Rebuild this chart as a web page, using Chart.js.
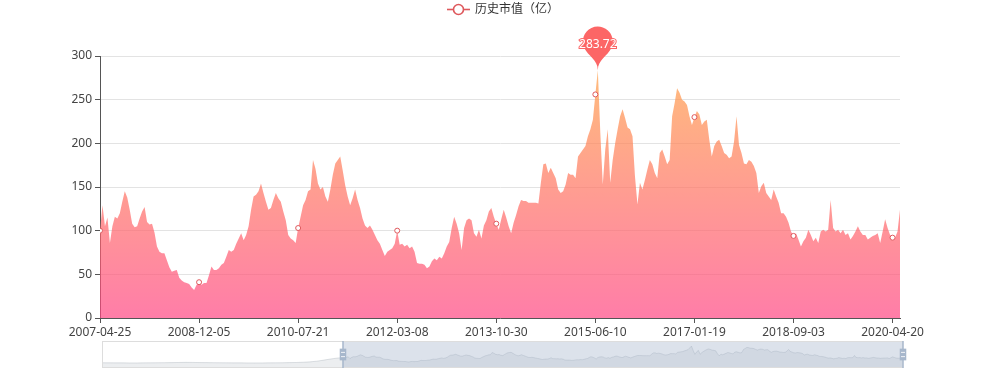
<!DOCTYPE html>
<html>
<head>
<meta charset="utf-8">
<script src="https://cdn.jsdelivr.net/npm/chart.js@4.4.1/dist/chart.umd.min.js"></script>
<style>
  html, body { margin: 0; padding: 0; background: #fff; }
  #wrap { position: relative; width: 1000px; height: 375px; overflow: hidden; }
  #main { position: absolute; left: 0; top: 0; }
  #zoom { position: absolute; left: 92px; top: 341px; }
</style>
</head>
<body>
<div id="wrap">
  <canvas id="main" width="1000" height="375"></canvas>
  <canvas id="zoom" width="821" height="27"></canvas>
</div>
<script>
const seriesName = '历史市值（亿）';

// one label every 40 points
const tickStep = 40;
const tickLabels = ['2007-04-25', '2008-12-05', '2010-07-21', '2012-03-08', '2013-10-30',
  '2015-06-10', '2017-01-19', '2018-09-03', '2020-04-20'];

const values = [
  // 2007-04 .. 2008-12
  100,129,105,115,86,105,116,114,120,133,145,138,124,108,104,105,114,122,127,110,
  107,108,98,82,76,74,74,66,58,53,54,55,46,43,41,40,39,35,32,38,41,
  // 2008-12 .. 2010-07
  38,40,40,49,59,55,55,57,61,63,70,78,76,78,85,91,97,89,95,105,
  124,139,141,145,154,143,133,124,126,135,143,137,133,122,112,95,91,89,86,103,
  // 2010-07 .. 2012-03
  116,129,135,145,147,181,171,154,147,150,139,133,147,164,177,181,185,169,152,139,
  129,137,147,135,126,114,106,103,106,101,95,89,85,78,71,76,78,80,85,100,
  // 2012-03 .. 2013-10
  84,85,82,84,80,82,76,63,62,62,61,57,59,65,68,66,70,68,74,82,
  87,103,116,108,97,78,103,112,114,112,97,93,101,91,106,112,122,126,116,108,
  // 2013-10 .. 2015-06
  101,113,124,115,105,97,109,118,128,135,134,134,132,132,132,132,131,155,176,177,
  166,172,166,160,147,143,145,153,166,164,164,160,185,189,193,197,208,216,227,256,
  // 2015-06 .. 2017-01
  283.72,212,153,193,216,155,181,200,216,231,239,229,218,216,208,162,130,155,147,158,
  170,181,176,166,160,189,193,185,176,181,231,246,263,258,250,248,244,231,221,230,
  // 2017-01 .. 2018-09
  237,233,221,225,227,204,185,197,202,204,197,189,187,183,185,202,231,198,189,177,
  176,181,179,174,166,143,151,155,143,139,135,147,139,132,120,120,116,109,99,94,
  // 2018-09 .. 2020-04
  97,90,82,88,92,101,95,88,92,86,99,101,99,101,135,103,99,101,97,101,
  95,97,90,94,99,105,99,95,95,90,92,94,95,97,86,99,113,103,95,92,
  92,99,124
];

// earlier history, only visible in the zoom slider (one value every 4 points)
const historyStep = 4;
const historyValues = [20,19,18,18,17,17,18,19,20,21,22,24,26,25,23,22,21,20,19,18,
  18,17,17,17,18,19,20,22,24,28,34,45,62,80,95];

const yMax = 300;
const yStep = 50;

const fontFamily = '"Noto Sans", "Noto Sans CJK SC", sans-serif';
const markColor = 'rgb(222,88,92)';
const pinColor = 'rgb(252,102,102)';
const axisColor = '#555';

Chart.defaults.font.family = fontFamily;
Chart.defaults.font.size = 12;
Chart.defaults.color = '#444';

function areaGradient(context) {
  const chart = context.chart;
  const area = chart.chartArea;
  if (!area) return 'rgba(255,120,140,0.7)';
  const top = chart.scales.y.getPixelForValue(Math.max(...values));
  const g = chart.ctx.createLinearGradient(0, top, 0, area.bottom);
  g.addColorStop(0, 'rgba(255,158,68,0.7)');
  g.addColorStop(1, 'rgba(255,70,131,0.7)');
  return g;
}

// echarts-like pin, tip at (x, y)
function pinPath(ctx, x, y, size) {
  const w = size / 5 * 3;
  const h = Math.max(w, size);
  const r = w / 2;
  const dy = r * r / (h - r);
  const cy = y - h + r + dy;
  const angle = Math.asin(dy / r);
  const dx = Math.cos(angle) * r;
  const tanX = Math.sin(angle);
  const tanY = Math.cos(angle);
  const cpLen = r * 0.6;
  const cpLen2 = r * 0.7;
  ctx.beginPath();
  ctx.moveTo(x - dx, cy + dy);
  ctx.arc(x, cy, r, Math.PI - angle, Math.PI * 2 + angle);
  ctx.bezierCurveTo(x + dx - tanX * cpLen, cy + dy + tanY * cpLen, x, y - cpLen2, x, y);
  ctx.bezierCurveTo(x, y - cpLen2, x - dx + tanX * cpLen, cy + dy + tanY * cpLen, x - dx, cy + dy);
  ctx.closePath();
}

const maxPin = {
  id: 'maxPin',
  afterDatasetsDraw(chart) {
    const { ctx, scales: { x, y } } = chart;
    const maxVal = Math.max(...values);
    const idx = values.indexOf(maxVal);
    const px = x.getPixelForValue(idx);
    const py = y.getPixelForValue(maxVal);
    ctx.save();
    pinPath(ctx, px, py, 50);
    ctx.fillStyle = pinColor;
    ctx.fill();
    ctx.font = '12px ' + fontFamily;
    ctx.textAlign = 'center';
    ctx.textBaseline = 'middle';
    ctx.lineWidth = 2;
    ctx.strokeStyle = pinColor;
    ctx.strokeText(String(maxVal), px, py - 26);
    ctx.fillStyle = '#fff';
    ctx.fillText(String(maxVal), px, py - 26);
    ctx.restore();
  }
};

const topLegend = {
  id: 'topLegend',
  afterDraw(chart) {
    const c = chart.ctx;
    c.save();
    c.strokeStyle = markColor;
    c.lineWidth = 1.6;
    c.beginPath();
    c.moveTo(447, 9.5);
    c.lineTo(470, 9.5);
    c.stroke();
    c.beginPath();
    c.arc(458.5, 9.5, 5, 0, Math.PI * 2);
    c.fillStyle = '#fff';
    c.fill();
    c.stroke();
    c.fillStyle = '#333';
    c.font = '12px ' + fontFamily;
    c.textAlign = 'left';
    c.textBaseline = 'middle';
    c.fillText(seriesName, 475, 10);
    c.restore();
  }
};

new Chart(document.getElementById('main'), {
  type: 'line',
  data: {
    datasets: [{
      label: seriesName,
      data: values.map((v, i) => ({ x: i, y: v })),
      fill: 'origin',
      backgroundColor: areaGradient,
      borderColor: 'rgba(0,0,0,0)',
      borderWidth: 0,
      tension: 0,
      pointRadius: c => (c.dataIndex % tickStep === 0 ? 2.5 : 0),
      pointHoverRadius: 0,
      pointBackgroundColor: '#fff',
      pointBorderColor: markColor,
      pointBorderWidth: 1
    }]
  },
  options: {
    responsive: false,
    animation: false,
    events: [],
    layout: { padding: { top: 56, right: 100, bottom: 0, left: 0 } },
    plugins: { legend: { display: false }, tooltip: { enabled: false } },
    scales: {
      x: {
        type: 'linear',
        min: 0,
        max: values.length - 1,
        afterBuildTicks: s => { s.ticks = tickLabels.map((_, k) => ({ value: k * tickStep })); },
        afterFit: s => { s.height = 57; },
        ticks: {
          autoSkip: false,
          maxRotation: 0,
          minRotation: 0,
          padding: 2,
          color: '#444',
          callback: v => tickLabels[Math.round(v / tickStep)]
        },
        grid: { drawOnChartArea: false, tickLength: 5, tickColor: axisColor },
        border: { color: axisColor }
      },
      y: {
        min: 0,
        max: yMax,
        afterFit: s => { s.width = 100; },
        ticks: { stepSize: yStep, padding: 3, color: '#444' },
        grid: { color: '#e3e3e3', tickLength: 5, tickColor: axisColor },
        border: { color: axisColor }
      }
    }
  },
  plugins: [maxPin, topLegend]
});

// ---- zoom slider ----
const previewData = historyValues
  .map((v, k) => ({ x: (k - historyValues.length) * historyStep + 1, y: v }))
  .concat(values.map((v, i) => ({ x: i, y: v })));
const pv = previewData.map(p => p.y);
const pLo = Math.min(...pv), pHi = Math.max(...pv);
const pPad = (pHi - pLo) * 0.3;

function drawHandle(ctx, hx, top, h) {
  const s = h / 34.3;
  ctx.fillStyle = '#a7b7cc';
  ctx.fillRect(hx - 0.95 * s, top, 1.9 * s, h);
  const bw = 8.3 * s, bh = 14.9 * s, by = top + 9.7 * s;
  ctx.fillRect(hx - bw / 2, by, bw, bh);
  ctx.fillStyle = 'rgba(255,255,255,0.75)';
  ctx.fillRect(hx - 2.55 * s, top + 13.8 * s, 5.1 * s, 1.4 * s);
  ctx.fillRect(hx - 2.55 * s, top + 19.1 * s, 5.1 * s, 1.4 * s);
}

const sliderDecor = {
  id: 'sliderDecor',
  afterDraw(chart) {
    const { ctx, chartArea: a, scales: { x } } = chart;
    const x0 = x.getPixelForValue(0);
    const x1 = x.getPixelForValue(values.length - 1);
    ctx.save();
    ctx.fillStyle = 'rgba(167,183,204,0.4)';
    ctx.fillRect(x0, a.top, x1 - x0, a.bottom - a.top);
    ctx.strokeStyle = '#ddd';
    ctx.lineWidth = 1;
    ctx.strokeRect(a.left + 0.5, a.top + 0.5, a.right - a.left - 1, a.bottom - a.top - 1);
    drawHandle(ctx, x0, a.top, a.bottom - a.top);
    drawHandle(ctx, x1, a.top, a.bottom - a.top);
    ctx.restore();
  }
};

new Chart(document.getElementById('zoom'), {
  type: 'line',
  data: {
    datasets: [{
      data: previewData,
      fill: 'start',
      backgroundColor: 'rgba(47,69,84,0.09)',
      borderColor: 'rgba(47,69,84,0.3)',
      borderWidth: 0.5,
      pointRadius: 0,
      tension: 0
    }]
  },
  options: {
    responsive: false,
    animation: false,
    events: [],
    layout: { padding: { top: 0, right: 10, bottom: 0, left: 10 } },
    plugins: { legend: { display: false }, tooltip: { enabled: false } },
    scales: {
      x: { type: 'linear', display: false, min: previewData[0].x, max: values.length - 1 },
      y: { display: false, min: pLo - pPad, max: pHi + pPad }
    }
  },
  plugins: [sliderDecor]
});
</script>
</body>
</html>
